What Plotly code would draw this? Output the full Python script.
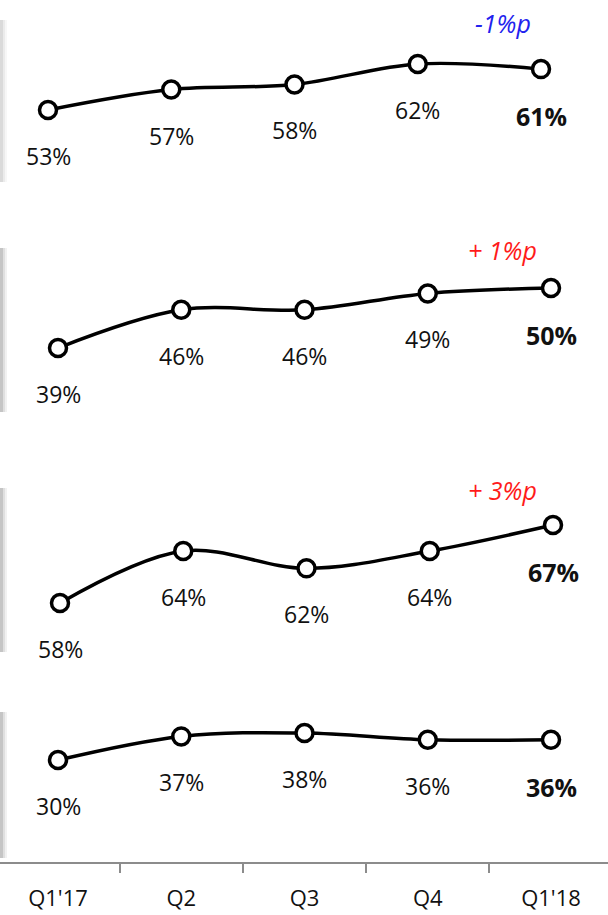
import plotly.graph_objects as go

quarters = ["Q1'17", "Q2", "Q3", "Q4", "Q1'18"]
row1 = [53, 57, 58, 62, 61]
row2 = [39, 46, 46, 49, 50]
row3 = [58, 64, 62, 64, 67]
row4 = [30, 37, 38, 36, 36]
changes = ["-1%p", "+ 1%p", "+ 3%p"]
change_colors = ["#2222ee", "#ff1a1a", "#ff1a1a"]

W, H = 608, 915
PH = 862
FONT = "Open Sans"
FS = 23

rows = [row1, row2, row3, row4]
yranges = [[-94.1, 74.52], [-55.23, 102.8], [28.12, 127.58], [-0.22, 255.2]]
xr = [-0.4706, 4.4625]
step = 123.25
xshift_px = [-10, 0, 2, 0]
axis_ids = ["2", "3", "4", ""]

fig = go.Figure()
annotations = []
for i, vals in enumerate(rows):
    aid = axis_ids[i]
    xa, ya = "x" + aid, "y" + aid
    fig.add_trace(go.Scatter(
        x=quarters, y=vals, xaxis=xa, yaxis=ya, mode="lines+markers",
        line=dict(color="black", width=3.5, shape="spline", smoothing=1.0),
        marker=dict(size=17, color="white", line=dict(color="black", width=3.5)),
        hoverinfo="skip", showlegend=False, cliponaxis=False))
    for j, v in enumerate(vals):
        last = j == len(vals) - 1
        annotations.append(dict(
            x=quarters[j], y=v, xref=xa, yref=ya, yshift=-46 if not last else -47,
            xanchor="center", yanchor="middle",
            text=f"<b>{v}%</b>" if last else f"{v}%", showarrow=False,
            font=dict(family=FONT, size=25 if last else FS, color="#111111")))

chg_pos = [(503, 23), (502, 250), (502, 490)]
for (px, py), txt, col in zip(chg_pos, changes, change_colors):
    annotations.append(dict(
        x=px / W, y=1 - py / PH, xref="paper", yref="paper", text=f"<i>{txt}</i>",
        xanchor="center", yanchor="middle",
        showarrow=False, font=dict(family=FONT, size=25, color=col)))

shapes = []
bands = [(20, 182, 0.35), (248, 412, 0.6), (488, 652, 0.6), (712, 858, 0.6)]
for (t, b, op) in bands:
    for w, a in [(7, 0.10), (5, 0.15), (3, 0.25)]:
        shapes.append(dict(type="rect", xref="paper", yref="paper", layer="below",
                           x0=0, x1=w / W, y0=1 - b / PH, y1=1 - t / PH,
                           line=dict(width=0), fillcolor=f"rgba(120,120,120,{a*op/0.6:.3f})"))

layout_axes = {}
for i, r in enumerate(yranges):
    aid = axis_ids[i]
    sh = xshift_px[i] / step
    xd = dict(range=[xr[0] - sh, xr[1] - sh], type="category", categoryorder="array",
              categoryarray=quarters, anchor="y" + aid, domain=[0, 1])
    if aid == "":
        xd.update(showgrid=False, zeroline=False, showline=True, linecolor="#8c8c8c", linewidth=2,
                  ticks="outside", tickson="boundaries", ticklen=9, tickcolor="#8c8c8c", tickwidth=2,
                  tickfont=dict(family=FONT, size=22, color="#111111"), ticklabelstandoff=16)
    else:
        xd.update(visible=False)
    layout_axes["xaxis" + aid] = xd
    layout_axes["yaxis" + aid] = dict(range=r, visible=False, showgrid=False, zeroline=False,
                                      anchor="x" + aid, domain=[0, 1])

fig.update_layout(
    width=W, height=H, margin=dict(l=0, r=0, t=0, b=H - PH),
    paper_bgcolor="white", plot_bgcolor="rgba(0,0,0,0)",
    annotations=annotations, shapes=shapes, **layout_axes)

fig.write_html("out.html", config={"displayModeBar": False},
               post_script="document.body.style.margin='0';")
